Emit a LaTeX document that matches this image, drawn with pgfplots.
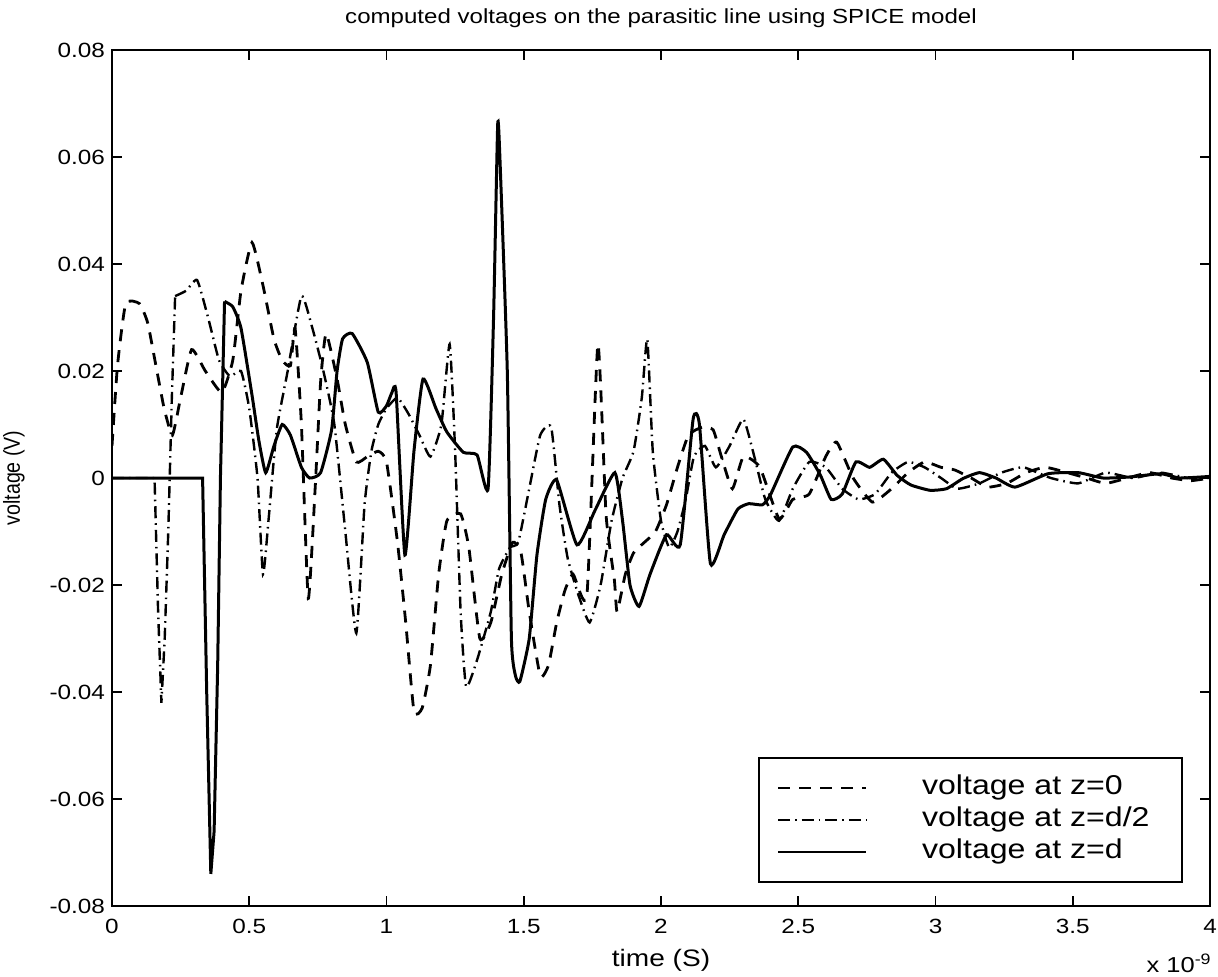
\documentclass[border=0pt]{standalone}
\usepackage{pgfplots}
\pgfplotsset{compat=1.18}
\usetikzlibrary{calc}
\usepackage{fontspec}
\setmainfont{Liberation Sans}[FakeStretch=1.18]
\newfontfamily\plainsans{Liberation Sans}
\begin{document}
\begin{tikzpicture}
\begin{axis}[name=ax,
  scale only axis, width=549pt, height=428pt,
  xmin=0, xmax=4, ymin=-0.08, ymax=0.08,
  scaled ticks=false,
  axis line style={line width=1pt},
  tick style={line width=0.9pt, black},
  tick align=inside, major tick length=5pt,
  xtick={0,0.5,1,1.5,2,2.5,3,3.5,4},
  xticklabels={0,0.5,1,1.5,2,2.5,3,3.5,4},
  ytick={-0.08,-0.06,-0.04,-0.02,0,0.02,0.04,0.06,0.08},
  yticklabels={-0.08,-0.06,-0.04,-0.02,0,0.02,0.04,0.06,0.08},
  ticklabel style={font=\fontsize{10.3}{12}\selectfont},
  xticklabel style={yshift=-3pt},
  xlabel={time (S)},
  ylabel={\scalebox{1}[1.18]{voltage (V)}},
  xlabel style={font=\fontsize{11.9}{13}\selectfont, yshift=-1pt},
  ylabel style={font=\plainsans\fontsize{9.8}{12}\selectfont, yshift=5.5pt},
  title={computed voltages on the parasitic line using SPICE model},
  title style={font=\fontsize{10.2}{12}\selectfont, yshift=1.5pt},
  legend style={at={(rel axis cs:0.975,0.027)}, anchor=south east,
    draw=black, line width=1pt, inner xsep=9pt, inner ysep=7pt,
    font=\fontsize{13.6}{15}\selectfont, row sep=0pt,
    nodes={text height=9.8pt, text depth=3pt, inner ysep=1.6pt, inner xsep=2pt}},
  legend cell align=left,
  legend image code/.code={\draw[#1, line width=0.8pt] (0pt,0pt) -- (44pt,0pt); \path[draw=none,fill=none] (0pt,-1pt) rectangle (70pt,1pt);},
  clip=true,
]
\addplot[black, line width=1.4pt, smooth, tension=0.3, dash pattern=on 6pt off 4.5pt] coordinates {
(0.000,0.006) (0.020,0.021) (0.050,0.0326) (0.100,0.0326) (0.130,0.029) (0.160,0.021)
(0.190,0.013) (0.220,0.008) (0.250,0.015) (0.290,0.024) (0.340,0.020) (0.400,0.016)
(0.440,0.022) (0.470,0.035) (0.510,0.044) (0.550,0.036) (0.590,0.026) (0.620,0.022)
(0.650,0.021) (0.667,0.028) (0.690,0.010) (0.715,-0.0225) (0.740,-0.002) (0.760,0.018)
(0.780,0.027) (0.820,0.0185) (0.850,0.010) (0.890,0.003) (0.930,0.004) (0.970,0.005)
(1.000,0.003) (1.040,-0.012) (1.070,-0.027) (1.100,-0.0436) (1.130,-0.043) (1.160,-0.035)
(1.190,-0.018) (1.220,-0.008) (1.270,-0.0067) (1.300,-0.013) (1.340,-0.030) (1.380,-0.027)
(1.420,-0.018) (1.460,-0.012) (1.490,-0.014) (1.520,-0.025) (1.560,-0.037) (1.590,-0.035)
(1.620,-0.027) (1.650,-0.021) (1.680,-0.018) (1.730,-0.022) (1.770,0.025) (1.800,-0.007)
(1.830,-0.019) (1.840,-0.025) (1.870,-0.018) (1.900,-0.014) (1.940,-0.012) (1.980,-0.010)
(2.020,-0.005) (2.060,0.002) (2.100,0.008) (2.150,0.0095) (2.190,0.009) (2.220,0.004)
(2.260,-0.002) (2.300,0.004) (2.360,0.002) (2.430,-0.0076) (2.480,-0.004) (2.540,-0.003)
(2.600,0.004) (2.640,0.0067) (2.700,0.000) (2.770,-0.0045) (2.840,-0.002) (2.900,0.001)
(2.960,0.003) (3.020,0.002) (3.070,0.0015) (3.130,0.000) (3.190,-0.0017) (3.260,-0.001)
(3.330,0.001) (3.400,0.002) (3.480,0.001) (3.550,0.000) (3.620,-0.001) (3.700,0.000)
(3.780,0.001) (3.860,0.000) (3.930,-0.0005) (4.000,0.000)
};
\addlegendentry{voltage at z=0\hspace*{5pt}}
\addplot[black, line width=1.2pt, smooth, tension=0.3, dash pattern=on 6pt off 2.5pt on 0.8pt off 2.5pt] coordinates {
(0.23,0.034) (0.27,0.035) (0.31,0.037)
(0.35,0.030) (0.39,0.022) (0.43,0.019) (0.47,0.02) (0.50,0.013) (0.53,0.0) (0.55,-0.018)
(0.57,-0.008) (0.60,0.009) (0.64,0.02) (0.69,0.034) (0.73,0.028) (0.77,0.02) (0.81,0.01)
(0.85,-0.01) (0.89,-0.029) (0.92,-0.005) (0.945,0.005) (0.97,0.010) (1.0,0.013) (1.04,0.015)
(1.08,0.012) (1.12,0.008) (1.16,0.004) (1.20,0.010) (1.23,0.025) (1.25,0.005) (1.27,-0.025)
(1.29,-0.039) (1.33,-0.034) (1.38,-0.025) (1.41,-0.017) (1.45,-0.013) (1.48,-0.012)
(1.52,-0.002) (1.56,0.008) (1.60,0.0095) (1.63,-0.005) (1.66,-0.015) (1.70,-0.022)
(1.74,-0.027) (1.78,-0.020) (1.82,-0.008) (1.86,0.0) (1.90,0.005) (1.93,0.015) (1.95,0.026)
(1.97,0.005) (2.0,-0.008) (2.03,-0.013) (2.06,-0.010) (2.09,-0.004) (2.12,0.004) (2.16,0.006)
(2.20,0.002) (2.25,0.006) (2.30,0.011) (2.34,0.004) (2.38,-0.004) (2.43,-0.008) (2.48,-0.002)
(2.54,0.003) (2.60,0.002) (2.66,-0.002) (2.72,-0.004) (2.78,-0.003) (2.84,0.001) (2.90,0.003)
(2.96,0.002) (3.02,0.0) (3.08,-0.002) (3.16,-0.001) (3.24,0.001) (3.32,0.002) (3.42,0.0)
(3.52,-0.001) (3.62,0.001) (3.72,0.0) (3.82,0.001) (3.92,0.0) (4.0,0.0)
};
\addlegendentry{voltage at z=d/2\hspace*{5pt}}
\addplot[black, line width=1.5pt, smooth, tension=0.3] coordinates {
(0.41,0.033) (0.44,0.032) (0.47,0.028) (0.51,0.0155) (0.535,0.007) (0.56,0.001) (0.59,0.006)
(0.62,0.010) (0.65,0.008) (0.69,0.002) (0.72,0.0) (0.76,0.001) (0.80,0.009) (0.82,0.02)
(0.84,0.026) (0.875,0.027) (0.93,0.0216) (0.97,0.0123) (1.00,0.0135) (1.02,0.016) (1.035,0.016)
(1.067,-0.0144) (1.10,0.005) (1.133,0.0185) (1.18,0.013) (1.22,0.0086) (1.28,0.0048)
(1.33,0.0043) (1.37,-0.002) (1.39,0.03) (1.405,0.066) (1.413,0.06) (1.44,0.02) (1.455,-0.03)
(1.47,-0.037) (1.486,-0.038) (1.52,-0.030) (1.548,-0.0144) (1.58,-0.004) (1.62,-0.0004)
(1.694,-0.0125) (1.76,-0.006) (1.832,0.001) (1.86,-0.008) (1.887,-0.02) (1.92,-0.024)
(1.96,-0.018) (2.02,-0.0106) (2.07,-0.0125) (2.117,0.011) (2.14,0.010) (2.18,-0.016)
(2.23,-0.0106) (2.28,-0.0058) (2.32,-0.0048) (2.37,-0.005) (2.40,-0.003) (2.48,0.0058)
(2.53,0.0048) (2.58,0.0006) (2.62,-0.004) (2.66,-0.003) (2.71,0.003) (2.76,0.002) (2.81,0.0035)
(2.86,0.0005) (2.91,-0.0013) (2.98,-0.0023) (3.04,-0.002) (3.10,-0.0001) (3.16,0.001)
(3.22,0.0) (3.29,-0.0017) (3.41,0.0008) (3.52,0.001) (3.61,0.0) (3.71,0.0002) (3.82,0.0008)
(3.89,0.0) (4.0,0.0003)
};
\addlegendentry{voltage at z=d\hspace*{5pt}}
\addplot[black, line width=1.2pt, forget plot, dash pattern=on 6pt off 2.5pt on 0.8pt off 2.5pt] coordinates {
(0,0) (0.155,0) (0.168,-0.025) (0.18,-0.042) (0.192,-0.03) (0.205,-0.01) (0.218,0.015) (0.23,0.034)
};
\addplot[black, line width=1.5pt, forget plot] coordinates {
(0,0) (0.33,0) (0.345,-0.04) (0.36,-0.074) (0.372,-0.066) (0.385,-0.035) (0.395,0.0) (0.41,0.033)
};
\end{axis}
\node[anchor=north east, font=\fontsize{10.8}{12}\selectfont, inner sep=0pt] at ($(ax.south east)+(1pt,-24pt)$) {x 10\textsuperscript{-9}};
\pgfresetboundingbox
\path[use as bounding box] ($(ax.south west)+(-56pt,-35pt)$) rectangle ($(ax.north east)+(4pt,25pt)$);
\end{tikzpicture}
\end{document}
